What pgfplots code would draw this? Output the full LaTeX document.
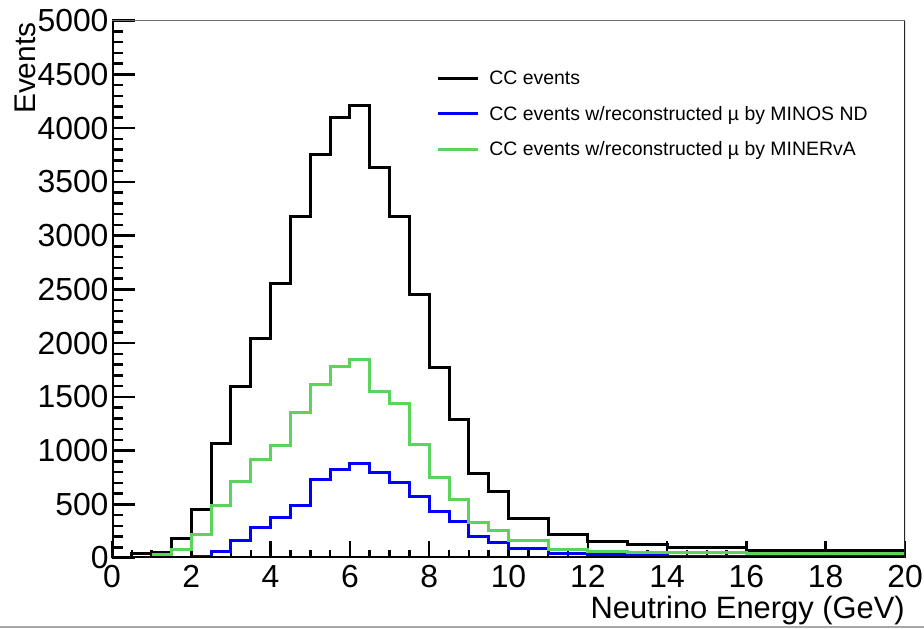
\documentclass[border=0pt]{standalone}
\usepackage{pgfplots}
\pgfplotsset{compat=1.18}
\usepackage{fontspec}
\setmainfont{Liberation Sans}
\definecolor{histblue}{RGB}{0,0,255}
\definecolor{histgreen}{RGB}{90,212,90}
\definecolor{framegray}{RGB}{110,110,110}

\begin{document}
\begin{tikzpicture}
\path[use as bounding box] (0bp,0bp) rectangle (924bp,629bp);
\fill[white] (0bp,0bp) rectangle (924bp,629bp);
\draw[framegray!60, line width=1.5bp] (0bp,2bp) -- (924bp,2bp);
\begin{axis}[
  at={(112bp,71bp)}, anchor=south west,
  scale only axis, width=793bp, height=537.3bp,
  xmin=0, xmax=20, ymin=0, ymax=5000,
  axis line style={draw=none},
  xtick={0,2,...,20}, minor x tick num=3,
  ytick={0,500,...,5000}, minor y tick num=4,
  tick align=inside, tick pos=left,
  major tick length=23bp, minor tick length=11bp,
  x tick style={/pgfplots/major tick length=17bp, /pgfplots/minor tick length=8bp},
  tick style={black, line width=2.5bp},
  scaled y ticks=false,
  /pgf/number format/1000 sep={},
  /pgf/number format/assume math mode=true,
  ticklabel style={font=\fontsize{32}{32}\selectfont},
  xticklabel style={yshift=-4bp},
  xlabel={Neutrino Energy (GeV)},
  xlabel style={at={(rel axis cs:1,0)}, anchor=north east, inner sep=0pt,
    yshift=-38bp, font=\fontsize{31}{31}\selectfont},
  ylabel={Events},
  ylabel style={at={(rel axis cs:-0.1223,0.997)}, anchor=north east, inner sep=0pt,
    font=\fontsize{30}{30}\selectfont},
  legend style={at={(rel axis cs:0.4088,0.9106)}, anchor=north west, draw=none, fill=none,
    inner sep=0pt, row sep=16bp, font=\fontsize{19.5}{19.5}\selectfont, cells={anchor=west},
    /tikz/every odd column/.append style={column sep=8bp}},
  legend image code/.code={\draw[#1] (0bp,0bp) -- (40bp,0bp);},
]
% all CC events
\addplot[const plot, black, line width=3bp] coordinates {
  (0,5) (0.5,40) (1,55) (1.5,180) (2,455) (2.5,1070) (3,1600) (3.5,2045)
  (4,2550) (4.5,3180) (5,3755) (5.5,4100) (6,4210) (6.5,3630) (7,3180)
  (7.5,2455) (8,1775) (8.5,1285) (9,790) (9.5,615) (10,365) (11,215)
  (12,158) (13,121) (14,96) (16,68) (20,68)};
\addlegendentry{CC events}
% muon reconstructed in MINOS ND
\addplot[const plot, histblue, line width=3bp] coordinates {
  (2,15) (2.5,65) (3,167) (3.5,286) (4,380) (4.5,493) (5,726) (5.5,828)
  (6,881) (6.5,794) (7,704) (7.5,570) (8,431) (8.5,338) (9,198) (9.5,146)
  (10,90) (11,44) (12,28) (13,21) (14,18) (16,15) (20,15)};
\addlegendentry{CC events w/reconstructed µ by MINOS ND}
% muon reconstructed in MINERvA
\addplot[const plot, histgreen, line width=3bp] coordinates {
  (1,28) (1.5,81) (2,222) (2.5,487) (3,710) (3.5,918) (4,1045) (4.5,1355)
  (5,1616) (5.5,1780) (6,1851) (6.5,1547) (7,1439) (7.5,1058) (8,751)
  (8.5,549) (9,332) (9.5,260) (10,167) (11,81) (12,59) (13,53) (14,50)
  (16,40) (20,40)};
\addlegendentry{CC events w/reconstructed µ by MINERvA}
% frame
\draw[black, line width=3bp] (rel axis cs:0,1) -- (rel axis cs:0,0) -- (rel axis cs:1,0);
\draw[framegray, line width=1.3bp] (rel axis cs:0,1) -- (rel axis cs:1,1);
\draw[black!85, line width=1.3bp] (rel axis cs:1,1) -- (rel axis cs:1,0);
\end{axis}
\end{tikzpicture}
\end{document}
